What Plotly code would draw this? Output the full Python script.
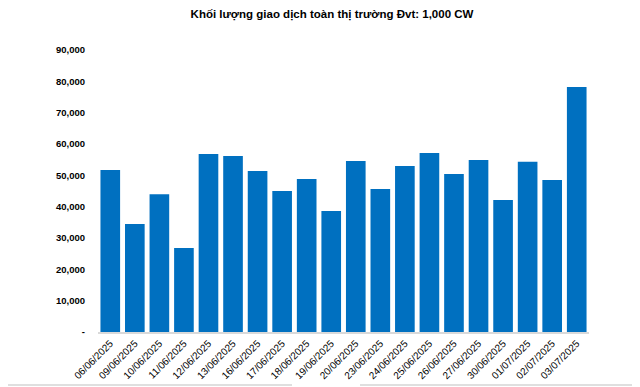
import plotly.graph_objects as go

dates = ["06/06/2025", "09/06/2025", "10/06/2025", "11/06/2025", "12/06/2025",
         "13/06/2025", "16/06/2025", "17/06/2025", "18/06/2025", "19/06/2025",
         "20/06/2025", "23/06/2025", "24/06/2025", "25/06/2025", "26/06/2025",
         "27/06/2025", "30/06/2025", "01/07/2025", "02/07/2025", "03/07/2025"]
volume = [51700, 34500, 44000, 26800, 56800, 56200, 51400, 45000, 48800, 38600,
          54600, 45600, 53000, 57100, 50400, 54900, 42100, 54300, 48500, 78200]
y_tickvals = [0, 10000, 20000, 30000, 40000, 50000, 60000, 70000, 80000, 90000]
y_ticktext = ["-", "10,000", "20,000", "30,000", "40,000", "50,000",
              "60,000", "70,000", "80,000", "90,000"]
title_text = "Khối lượng giao dịch toàn thị trường Đvt: 1,000 CW"

# page body has an 8px margin; compensate so the screen positions match
OFF = 8
L, T = 98 - OFF, 50 - OFF
PW, PH = 491, 282

fig = go.Figure(go.Bar(x=dates, y=volume, marker_color="#0070C0",
                       marker_line_width=0))

fig.update_layout(
    width=640, height=387,
    margin=dict(l=L, r=640 - L - PW, t=T, b=387 - T - PH),
    paper_bgcolor="white", plot_bgcolor="white",
    bargap=0.2,
    showlegend=False,
    title=dict(text=title_text, x=(332 - OFF) / 640, xanchor="center",
               y=1 - (14 - OFF) / 387, yanchor="middle",
               font=dict(family="Liberation Sans, Arial", size=11.5, color="black",
                         weight="bold")),
    font=dict(family="Liberation Sans, Arial", color="black"),
)
fig.update_xaxes(
    type="category", tickangle=-45, showgrid=False,
    showline=True, linecolor="#d9d9d9", linewidth=1.5,
    tickfont=dict(size=10), ticks="", automargin=False,
)
fig.update_yaxes(
    range=[0, 90000], tickvals=y_tickvals, ticktext=y_ticktext,
    showgrid=False, showline=False, zeroline=False, ticks="",
    tickfont=dict(size=9.5, weight="bold"), ticklabelstandoff=12, automargin=False,
)


def px(sx):
    return (sx - OFF - L) / PW


ly = -(385 - 332) / PH
fig.add_shape(type="line", xref="paper", yref="paper",
              x0=px(0), x1=px(292), y0=ly, y1=ly,
              line=dict(color="#bfbfbf", width=1))
fig.add_shape(type="line", xref="paper", yref="paper",
              x0=px(360), x1=px(640), y0=ly, y1=ly,
              line=dict(color="#bfbfbf", width=1))

fig.write_html("out.html")
